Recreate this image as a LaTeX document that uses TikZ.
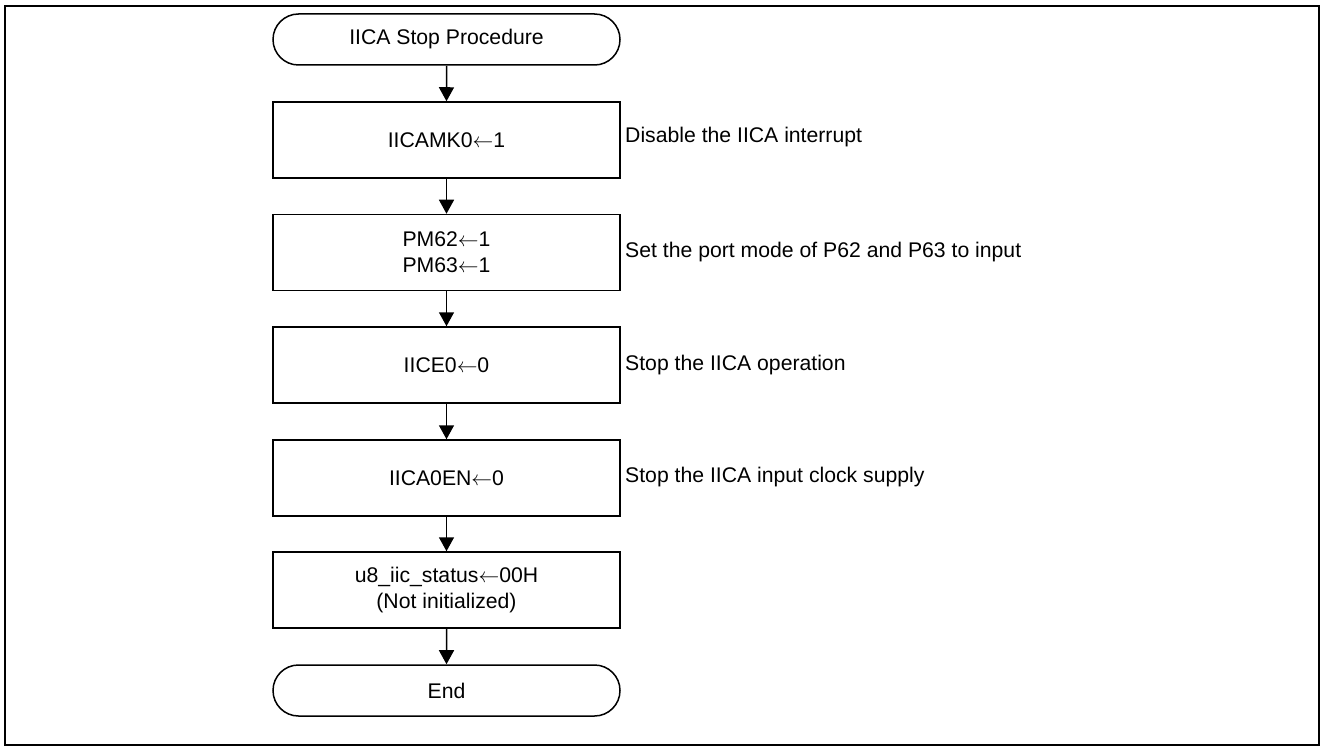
\documentclass[tikz,border=0pt]{standalone}
\usepackage{fontspec}
\setmainfont{Liberation Sans}
\usetikzlibrary{arrows.meta,shapes.misc}
\newcommand{\lar}{\ensuremath{\leftarrow}}
\begin{document}
\begin{tikzpicture}[x=1pt,y=-1pt,
  every node/.style={font=\fontsize{21.2}{26}\selectfont},
  procbox/.style={draw,line width=1.5pt,minimum width=347pt,minimum height=76pt,inner sep=0pt,align=center},
  termbox/.style={draw,line width=1.5pt,rounded rectangle,rounded rectangle arc length=180,minimum width=347pt,minimum height=51pt,inner sep=0pt},
  note/.style={anchor=west,inner sep=0pt},
  flow/.style={line width=1.5pt,-{Triangle[width=15pt,length=14pt]}}]
\useasboundingbox (0,0) rectangle (1322,746);
\draw[line width=2.6pt] (5,6) rectangle (1319,745);
\node[termbox] (start) at (446.5,39.5) {IICA Stop Procedure};
\node[procbox] (b1) at (446.5,140) {IICAMK0\lar1};
\node[procbox] (b2) at (446.5,252.5) {PM62\lar1\\PM63\lar1};
\node[procbox] (b3) at (446.5,365) {IICE0\lar0};
\node[procbox] (b4) at (446.5,478) {IICA0EN\lar0};
\node[procbox] (b5) at (446.5,590) {u8\_iic\_status\lar00H\\(Not initialized)};
\node[termbox] (end) at (446.5,690.5) {End};
\node[note] (n1) at (625,137) {Disable the IICA interrupt};
\node[note] (n2) at (625,252) {Set the port mode of P62 and P63 to input};
\node[note] (n3) at (625,365) {Stop the IICA operation};
\node[note] (n4) at (625,477) {Stop the IICA input clock supply};
\draw[flow] (start) -- (b1);
\draw[flow] (b1) -- (b2);
\draw[flow] (b2) -- (b3);
\draw[flow] (b3) -- (b4);
\draw[flow] (b4) -- (b5);
\draw[flow] (b5) -- (end);
\end{tikzpicture}
\end{document}
